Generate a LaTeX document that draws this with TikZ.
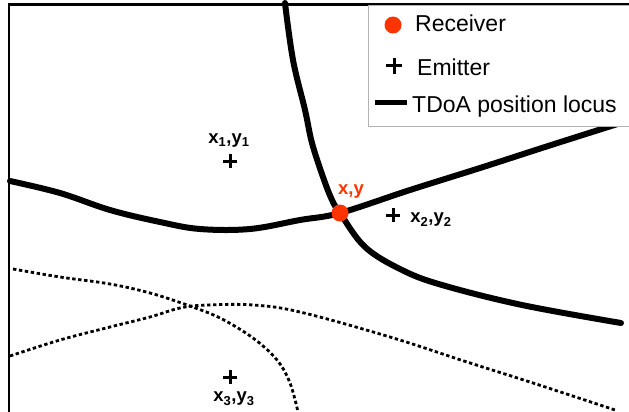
\documentclass[tikz,border=0pt]{standalone}
\usepackage{fontspec}
\setmainfont{Liberation Sans}
\usetikzlibrary{positioning}
\definecolor{rxred}{RGB}{255,51,0}

\begin{document}
\begin{tikzpicture}[x=1pt, y=-1pt,
   locus/.style={line width=6pt, line join=round, line cap=round},
   ghost/.style={line width=2.8pt, dash pattern=on 3.4pt off 2.6pt},
   receiver/.style={circle, fill=rxred, minimum size=17pt, inner sep=0pt},
   emitter/.style={minimum size=#1, inner sep=0pt, path picture={
      \draw[line width=3pt] (path picture bounding box.west) -- (path picture bounding box.east)
         (path picture bounding box.north) -- (path picture bounding box.south);}},
   emitter/.default=14pt,
   coord/.style={font=\bfseries\fontsize{18.5}{18.5}\selectfont, inner sep=0pt},
   legendtext/.style={font=\fontsize{23}{23}\selectfont, inner sep=0pt, anchor=base west}]
   \useasboundingbox (0,0) rectangle (629,412);
   \clip (0,0) rectangle (629,412);

   % frame
   \draw[line width=2.6pt] (9,412) -- (9,4.5) -- (640,4.5);

   % loci through the receiver
   \draw[locus] plot[smooth, tension=0.6] coordinates {(10,181) (60,193) (110,210) (160,222)
      (200,229) (250,229) (300,220) (340,213) (410,190) (480,168) (545,147) (608,127) (640,117)};
   \draw[locus] plot[smooth, tension=0.6] coordinates {(285,3) (293,60) (305,110) (312,143)
      (323,177) (332,200) (340,213) (365,247) (402,270) (442,285) (522,305) (621,323)};

   % loci of the third emitter
   \draw[ghost] plot[smooth, tension=0.6] coordinates {(13,269) (60,277) (110,284) (150,293)
      (187,305) (220,318) (253,338) (277,360) (290,383) (298,412)};
   \draw[ghost] plot[smooth, tension=0.6] coordinates {(10,356) (60,340) (110,327) (150,317)
      (180,308) (207,305) (253,305) (300,312) (390,337) (467,362) (533,383) (615,410)};

   % emitters
   \node[emitter] (e1) at (230,161) {};
   \node[coord] (l1) at (229,141) {x\textsubscript{1},y\textsubscript{1}};
   \node[emitter] (e2) at (393,215) {};
   \node[coord, right=10pt of e2, yshift=-5pt] (l2) {x\textsubscript{2},y\textsubscript{2}};
   \node[emitter] (e3) at (230,377) {};
   \node[coord] (l3) at (234,399) {x\textsubscript{3},y\textsubscript{3}};

   % receiver
   \node[receiver] (rx) at (340,213) {};
   \node[coord, text=rxred] (lrx) at (351,192) {x,y};

   % legend
   \draw[gray!60, fill=white, line width=1pt] (368,5.8) rectangle (640,126);
   \node[receiver] (krx) at (393,25) {};
   \node[legendtext] (trx) at (415,32) {Receiver};
   \node[emitter=16pt] (kem) at (394,66) {};
   \node[legendtext] (tem) at (417,75) {Emitter};
   \coordinate (kl1) at (375,102);
   \coordinate (kl2) at (407,102);
   \draw[line width=5pt] (kl1) -- (kl2);
   \node[legendtext] (tloc) at (412,112) {TDoA position locus};
\end{tikzpicture}
\end{document}
